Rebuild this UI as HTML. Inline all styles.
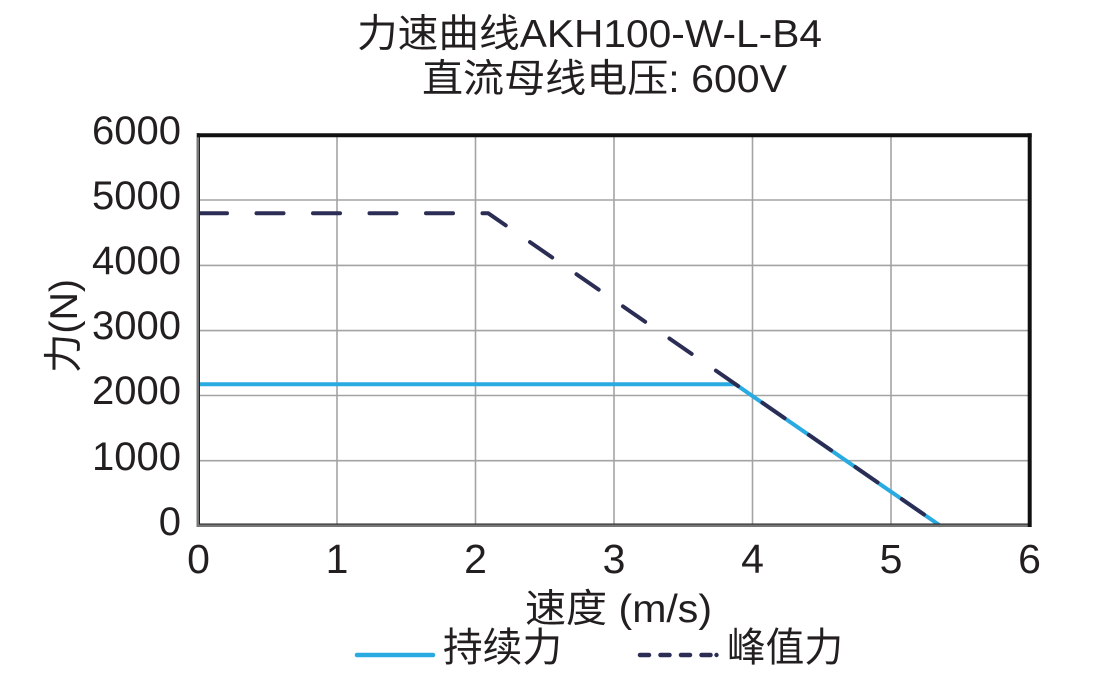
<!DOCTYPE html>
<html><head><meta charset="utf-8"><style>
html,body{margin:0;padding:0;background:#fff;}
svg{display:block;}
text{font-family:"Liberation Sans","Noto Sans CJK SC",sans-serif;fill:#231f20;}
</style></head><body>
<svg width="1099" height="693" viewBox="0 0 1099 693" xmlns="http://www.w3.org/2000/svg">
<rect width="1099" height="693" fill="#fff"/>
<!-- title -->
<text x="357" y="47" font-size="39" textLength="465" lengthAdjust="spacingAndGlyphs">力速曲线AKH100-W-L-B4</text>
<text x="422" y="92" font-size="39" textLength="365" lengthAdjust="spacingAndGlyphs">直流母线电压: 600V</text>
<!-- grid -->
<g stroke="#a3a3a3" stroke-width="1.6">
<line x1="337" y1="135" x2="337" y2="526"/>
<line x1="475.5" y1="135" x2="475.5" y2="526"/>
<line x1="614" y1="135" x2="614" y2="526"/>
<line x1="752.5" y1="135" x2="752.5" y2="526"/>
<line x1="891" y1="135" x2="891" y2="526"/>
<line x1="198" y1="200" x2="1030" y2="200"/>
<line x1="198" y1="265.4" x2="1030" y2="265.4"/>
<line x1="198" y1="330.6" x2="1030" y2="330.6"/>
<line x1="198" y1="395.5" x2="1030" y2="395.5"/>
<line x1="198" y1="460.7" x2="1030" y2="460.7"/>
</g>
<!-- series -->
<polyline points="198.5,384.3 735.5,384.3 940.5,525.9" fill="none" stroke="#29abe2" stroke-width="4"/>
<polyline points="198.5,213.3 488.3,213.3 940.5,525.9" fill="none" stroke="#2b2d55" stroke-width="4" stroke-dasharray="27 29.5" stroke-dashoffset="-1.5" stroke-linecap="round" stroke-linejoin="round"/>
<!-- frame -->
<line x1="198" y1="133" x2="198" y2="527" stroke="#777" stroke-width="3"/>
<line x1="199.5" y1="136" x2="199.5" y2="525" stroke="#222" stroke-width="1"/>
<line x1="197" y1="525.5" x2="1031" y2="525.5" stroke="#777" stroke-width="3"/>
<line x1="199" y1="524" x2="1029" y2="524" stroke="#222" stroke-width="1"/>
<line x1="197" y1="135.3" x2="1031.7" y2="135.3" stroke="#111" stroke-width="4"/>
<line x1="1029.7" y1="133.3" x2="1029.7" y2="527" stroke="#111" stroke-width="4"/>
<!-- y ticks -->
<g font-size="40" text-anchor="end">
<text x="181" y="144">6000</text>
<text x="181" y="209">5000</text>
<text x="181" y="274">4000</text>
<text x="181" y="339">3000</text>
<text x="181" y="404">2000</text>
<text x="181" y="470">1000</text>
<text x="181" y="535">0</text>
</g>
<!-- x ticks -->
<g font-size="41" text-anchor="middle">
<text x="198.5" y="573">0</text>
<text x="337" y="573">1</text>
<text x="475.5" y="573">2</text>
<text x="614" y="573">3</text>
<text x="752.5" y="573">4</text>
<text x="891" y="573">5</text>
<text x="1029.5" y="573">6</text>
</g>
<!-- axis titles -->
<text x="525" y="622" font-size="39" textLength="187" lengthAdjust="spacingAndGlyphs">速度 (m/s)</text>
<text transform="translate(77,373) rotate(-90)" x="0" y="0" font-size="39" textLength="94" lengthAdjust="spacingAndGlyphs">力(N)</text>
<!-- legend -->
<line x1="357" y1="655" x2="433" y2="655" stroke="#29abe2" stroke-width="4.5" stroke-linecap="round"/>
<text x="443" y="661" font-size="40" textLength="119" lengthAdjust="spacingAndGlyphs">持续力</text>
<line x1="640" y1="655" x2="712" y2="655" stroke="#2b2d55" stroke-width="4.5" stroke-linecap="round" stroke-dasharray="9 11.5"/>
<circle cx="716.5" cy="655" r="2.2" fill="#2b2d55"/>
<text x="727" y="661" font-size="40" textLength="116" lengthAdjust="spacingAndGlyphs">峰值力</text>
</svg>
</body></html>
